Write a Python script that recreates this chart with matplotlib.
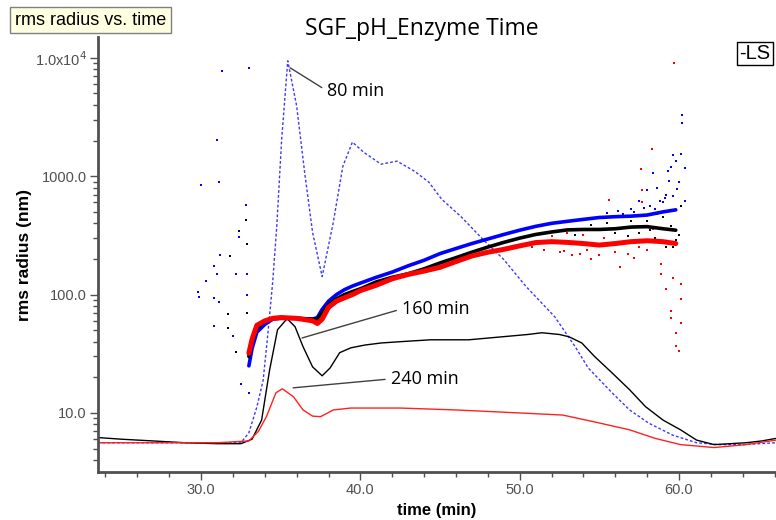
import matplotlib
matplotlib.use("Agg")
import matplotlib.pyplot as plt
from matplotlib.ticker import FixedLocator, FixedFormatter, MultipleLocator, LogLocator, NullFormatter

# ---- data ----
# 80 min: dashed blue line (LS)
t80 = [23.5, 26, 29, 31, 32.5, 33.0, 33.5, 33.9, 34.2, 34.5, 34.75, 35.06, 35.44, 36.0, 36.5, 37.0,
       37.6, 38.3, 38.9, 39.5, 40.2, 41.3, 42.3, 43.4, 44.3, 45.1, 46.3, 47.7, 49.0, 50.4, 52.2,
       53.5, 54.3, 55.8, 56.9, 58.1, 59.6, 61.1, 62.5, 64.0, 66.1]
r80 = [5.6, 5.6, 5.6, 5.6, 5.6, 6.8, 11.2, 19, 47.7, 130, 376, 2060, 9440, 3920, 1081, 335,
       142, 408, 1215, 1942, 1597, 1264, 1340, 1102, 890, 640, 458, 292, 198, 117, 65,
       36, 24, 14.8, 10.6, 8.2, 6.5, 5.6, 5.4, 5.4, 5.6]

# 160 min: black line
t160 = [23.5, 25, 27, 29, 31, 32.5, 33.2, 33.8, 34.3, 34.8, 35.4, 35.9, 36.4, 37.0, 37.6, 38.1,
        38.7, 39.4, 40.3, 41.3, 42.5, 44.4, 46.8, 48.9, 50.5, 51.4, 52.5, 53.1, 53.9, 54.7, 55.8,
        56.9, 57.9, 59.0, 60.1, 61.1, 62.2, 63.2, 64.2, 65.2, 66.1]
r160 = [6.2, 6.0, 5.8, 5.6, 5.5, 5.5, 6.0, 8.7, 23, 50.5, 62.6, 53.5, 36.3, 24.5, 20.6, 24,
        32.3, 35.5, 37.5, 39, 40, 41.5, 41.5, 44, 46, 47.6, 46, 44, 39, 30, 21.8,
        15.7, 11.3, 8.7, 7.2, 5.9, 5.4, 5.5, 5.6, 5.8, 6.1]

# 240 min: red line
t240 = [23.5, 27, 31, 33.0, 33.6, 34.1, 34.7, 35.1, 35.8, 36.4, 37.0, 37.5, 38.3, 39.4, 42.5,
        46.0, 50.0, 52.7, 54.7, 56.9, 58.5, 60.1, 61.5, 62.2, 64.2, 66.1]
r240 = [5.6, 5.6, 5.6, 5.8, 7.0, 9.3, 14.8, 16.0, 13.7, 10.6, 9.4, 9.3, 10.6, 11.0, 11.0,
        10.6, 10.0, 9.6, 8.4, 7.2, 6.1, 5.4, 5.2, 5.1, 5.4, 5.9]

# scattered bands (dots)
tb = [33.0, 33.2, 33.5, 34.0, 34.5, 35.0, 36.0, 37.0, 37.3, 37.6, 38.0, 38.5, 39.0, 39.5, 40.0,
      41.0, 42.0, 43.0, 44.0, 45.0, 46.0, 47.0, 48.0, 49.0, 50.0, 51.0, 52.0, 53.0, 54.0,
      55.0, 56.0, 57.0, 58.0, 59.0, 59.8]
band_blue = [25, 35, 48, 56, 62, 63, 63, 62, 64, 75, 88, 100, 110, 118, 125,
             140, 155, 175, 195, 222, 245, 270, 295, 322, 350, 377, 400, 416, 432,
             448, 455, 460, 470, 500, 520]
band_black = [30, 40, 52, 60, 63, 64, 63, 62, 62, 70, 82, 92, 100, 106, 112,
              128, 140, 150, 165, 185, 205, 228, 252, 276, 300, 322, 338, 352, 355,
              355, 360, 372, 375, 360, 350]
band_red = [32, 42, 55, 60, 63, 64, 63, 60, 57, 62, 78, 88, 94, 100, 108,
            120, 136, 148, 158, 170, 190, 212, 228, 241, 258, 275, 280, 276, 270,
            262, 270, 280, 285, 280, 270]

# stray points
blue_pts_t = [29.8, 29.9, 30.0, 30.3, 30.8, 30.8, 30.8, 31.0, 31.0, 31.1, 31.1, 31.2, 31.3, 32.0,
              32.2, 32.5, 32.8, 32.9, 32.9, 33.0, 33.0, 32.4,
              58.2, 58.4, 58.5, 59.0, 59.4, 59.6, 59.6, 59.9, 60.1, 60.2, 60.4, 60.4, 59.8,
              59.2, 58.8, 57.8, 57.2, 56.5, 60.2, 59.5, 60.0, 57.5, 58.0, 59.3,
              55.5, 56.2, 57.0, 58.6, 59.1]
blue_pts_r = [106, 96, 836, 131, 173, 94, 54, 150, 2020, 890, 87, 218, 7700, 45,
              148, 17.6, 570, 148, 100, 8200, 14.8, 304,
              556, 1060, 525, 604, 905, 1510, 676, 777, 1540, 3300, 1170, 613, 1350,
              700, 620, 540, 500, 480, 2800, 1200, 900, 620, 760, 1100,
              490, 510, 530, 800, 650]
black_pts_t = [31.7, 31.7, 31.8, 32.2, 32.4, 32.8, 32.9, 32.9,
               57.5, 58.0, 58.5, 59.0, 59.5, 59.8, 60.0, 60.1, 59.2, 58.6, 56.8, 55.5,
               53.5, 54.5, 56.0, 57.0, 58.2, 59.6]
black_pts_r = [69, 52, 210, 33, 342, 430, 270, 70,
               330, 420, 300, 450, 380, 290, 320, 560, 250, 480, 310, 400,
               320, 390, 330, 420, 350, 250]
red_pts_t = [55.6, 57.6, 57.7, 57.7, 58.3, 56.3, 58.9, 59.2, 59.6, 60.1, 60.1, 59.5, 59.5, 60.1,
             59.8, 59.8, 60.0, 58.9, 59.7, 52.5, 53.3, 53.8, 54.5, 55.0, 56.8, 57.2, 58.0, 54.0,
             51.5, 52.0, 53.0, 54.2, 55.3, 56.0, 57.5, 58.4, 50.8, 52.8]
red_pts_r = [626, 1140, 761, 604, 1690, 170, 148, 112, 137, 122, 92, 73, 64, 58,
             47, 37, 33.5, 180, 9000, 230, 215, 220, 200, 215, 220, 205, 240, 320,
             240, 310, 330, 240, 300, 230, 250, 360, 250, 235]

# ---- figure ----
fig = plt.figure(figsize=(7.76, 5.2), dpi=100)
ax = fig.add_axes([0.1263, 0.0923, 0.8737, 0.8365])

ax.plot(t80, r80, color="#3a3aff", lw=1.0, ls=(0, (2, 1.5)))
ax.plot(t160, r160, color="black", lw=1.0)
ax.plot(t240, r240, color="#ff2020", lw=1.0)

ax.plot(tb, band_blue, color="#0000ff", lw=2.6, solid_capstyle="round")
ax.plot(tb, band_black, color="black", lw=2.6, solid_capstyle="round")
ax.plot(tb, band_red, color="#ff0000", lw=3.6, solid_capstyle="round")

ax.scatter(blue_pts_t, blue_pts_r, s=3.5, color="#0000ff", marker="s", lw=0)
ax.scatter(black_pts_t, black_pts_r, s=3.5, color="black", marker="s", lw=0)
ax.scatter(red_pts_t, red_pts_r, s=3.5, color="#ff0000", marker="s", lw=0)

ax.set_yscale("log")
ax.set_xlim(23.53, 66.09)
ax.set_ylim(3.17, 15000)

ax.yaxis.set_major_locator(FixedLocator([10, 100, 1000, 10000]))
ax.yaxis.set_major_formatter(FixedFormatter(["10.0", "100.0", "1000.0", r"1.0x10$^4$"]))
ax.yaxis.set_minor_locator(LogLocator(base=10, subs=range(2, 10)))
ax.yaxis.set_minor_formatter(NullFormatter())
ax.xaxis.set_major_locator(FixedLocator([30, 40, 50, 60]))
ax.xaxis.set_major_formatter(FixedFormatter(["30.0", "40.0", "50.0", "60.0"]))
ax.xaxis.set_minor_locator(MultipleLocator(2))

for s in ["top", "right"]:
    ax.spines[s].set_visible(False)
for s in ["left", "bottom"]:
    ax.spines[s].set_color("#505050")
    ax.spines[s].set_linewidth(2)

ax.tick_params(which="major", direction="out", length=6, width=1, color="#505050",
               labelcolor="#505050", labelsize=10.5, pad=2)
ax.tick_params(which="minor", direction="out", length=3.5, width=1, color="#505050")
for lab in ax.get_xticklabels() + ax.get_yticklabels():
    lab.set_family("Liberation Sans")

ax.set_xlabel("time (min)", family="Liberation Sans", fontweight="bold", fontsize=12,
              labelpad=4)
ax.set_ylabel("rms radius (nm)", family="Liberation Sans", fontweight="bold", fontsize=12.5,
              labelpad=2)

# annotations
note = dict(arrowstyle="-", color="#404040", lw=1, relpos=(0, 0.5), shrinkA=2, shrinkB=0)
ax.annotate("80 min", xy=(35.59, 8240), xytext=(37.9, 5270), fontsize=13, family="Open Sans",
            va="center", ha="left", arrowprops=note)
ax.annotate("160 min", xy=(36.34, 43), xytext=(42.6, 75.7), fontsize=13, family="Open Sans",
            va="center", ha="left", arrowprops=note)
ax.annotate("240 min", xy=(35.78, 16.3), xytext=(41.9, 19.4), fontsize=13, family="Open Sans",
            va="center", ha="left", arrowprops=note)

fig.text(0.544, 0.945, "SGF_pH_Enzyme Time", family="Open Sans", fontsize=16.5,
         ha="center", va="center")
fig.text(0.019, 0.961, "rms radius vs. time", family="Liberation Sans", fontsize=13,
         ha="left", va="center",
         bbox=dict(boxstyle="square,pad=0.25", fc="#ffffe1", ec="#808080", lw=1))
fig.text(0.953, 0.897, "-LS", family="Liberation Sans", fontsize=14.5,
         ha="left", va="center",
         bbox=dict(boxstyle="square,pad=0.12", fc="white", ec="black", lw=1))

fig.savefig("out.png", dpi=100)
